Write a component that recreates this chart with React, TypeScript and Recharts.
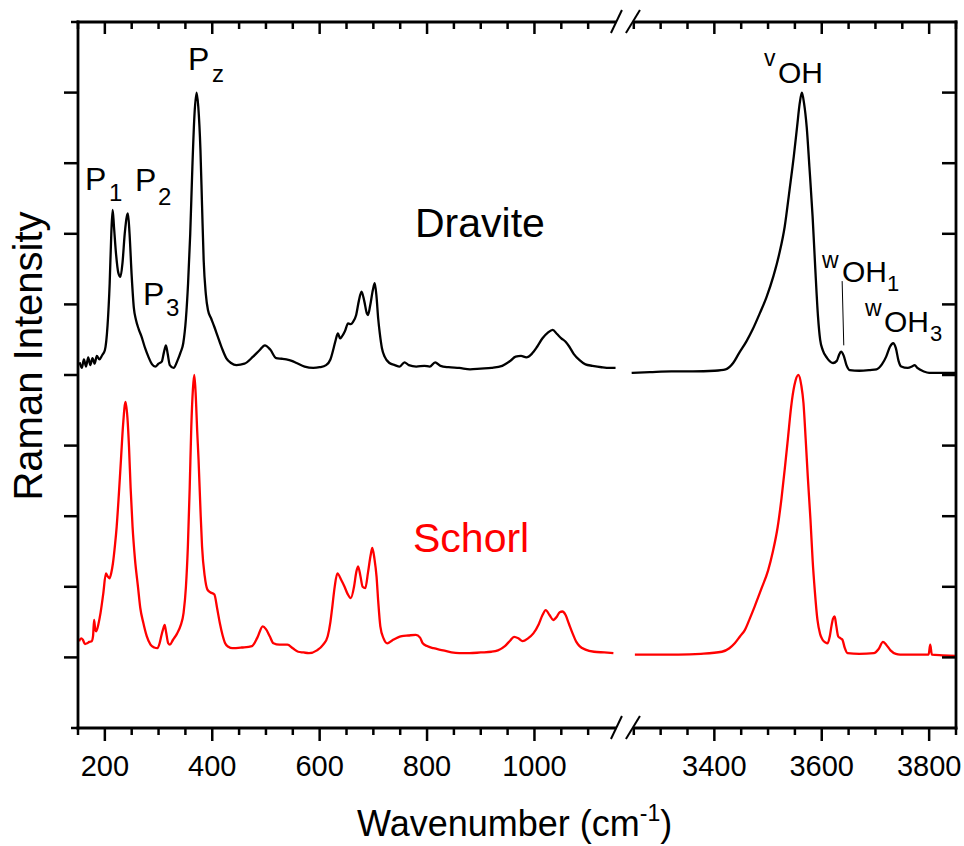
import { LineChart, Line, XAxis, YAxis, ReferenceLine } from 'recharts';

const FONT = '"Liberation Sans", Arial, sans-serif';

// broken axis: values above the break are shifted left by this much
const SHIFT = 2065;
const BREAK_AT = 1168.5;
const toAxis = (v: number) => (v > 2000 ? v - SHIFT : v);
const fromAxis = (a: number) => (a > BREAK_AT ? a + SHIFT : a);

const majorTicks = [200, 400, 600, 800, 1000, 3400, 3600, 3800];
const minorTicks = [
  150, 250, 300, 350, 450, 500, 550, 650, 700, 750, 850, 900, 950, 1050, 1100,
  3250, 3300, 3350, 3450, 3500, 3550, 3650, 3700, 3750, 3850,
];
const yTicks = [0, 1, 2, 3, 4, 5, 6, 7, 8, 9, 10];

// Dravite, low wavenumber part
const dravLowX = [
  153, 157, 161, 165, 169, 173, 177, 181, 185, 190, 195, 200, 205, 209, 212, 214.5, 217, 221, 225, 229,
  233, 237, 241, 243, 246, 250, 254, 258, 263, 268, 275, 281, 288, 294, 300, 306, 310, 313.8, 317, 321,
  328, 335, 341, 346, 351, 355, 359, 363, 367, 370.8, 374, 378, 381, 384, 388, 392, 398, 404, 410, 418,
  426, 435, 445, 460, 476, 488, 498, 508, 519, 530, 538, 548, 557, 572, 588, 600, 612, 620, 626, 630,
  634, 638, 641, 647, 653, 658, 662, 668, 673, 678, 683, 688, 690, 694, 699, 702.6, 706, 709, 712, 716,
  721, 730, 740, 749, 758, 766, 780, 795, 805, 815, 825, 840, 860, 880, 900, 920, 940, 955, 965, 975,
  985, 995, 1005, 1015, 1025, 1034, 1042, 1050, 1058, 1065, 1073, 1084, 1095, 1108, 1125, 1140, 1151,
];
const dravLowY = [
  5.18, 5.1, 5.22, 5.12, 5.25, 5.14, 5.24, 5.16, 5.27, 5.22, 5.28, 5.35, 5.7, 6.3, 7.0, 7.34, 7.1, 6.7, 6.45, 6.39,
  6.6, 7.0, 7.25, 7.29, 7.0, 6.4, 5.95, 5.78, 5.65, 5.55, 5.38, 5.26, 5.15, 5.12, 5.16, 5.19, 5.32, 5.42, 5.3, 5.14,
  5.1, 5.2, 5.32, 5.45, 5.8, 6.3, 7.0, 7.95, 8.7, 9.0, 8.8, 8.19, 7.4, 6.63, 6.15, 5.92, 5.8, 5.68, 5.55, 5.38,
  5.24, 5.17, 5.14, 5.16, 5.26, 5.35, 5.42, 5.36, 5.24, 5.23, 5.22, 5.2, 5.17, 5.12, 5.1, 5.11, 5.14, 5.22, 5.38, 5.5,
  5.59, 5.52, 5.54, 5.62, 5.73, 5.72, 5.75, 5.85, 6.05, 6.18, 6.05, 5.87, 5.85, 5.98, 6.2, 6.3, 6.1, 5.8, 5.59, 5.38,
  5.26, 5.17, 5.14, 5.12, 5.18, 5.14, 5.12, 5.13, 5.12, 5.18, 5.13, 5.11, 5.1, 5.08, 5.09, 5.1, 5.13, 5.2, 5.26, 5.27,
  5.25, 5.3, 5.4, 5.52, 5.6, 5.64, 5.58, 5.52, 5.47, 5.4, 5.3, 5.21, 5.15, 5.13, 5.11, 5.1, 5.1,
];

// Dravite, OH stretching region
const dravHighX = [
  3246, 3280, 3320, 3360, 3400, 3421, 3435, 3446, 3460, 3471, 3485, 3497, 3510, 3521, 3531, 3540, 3548, 3554, 3559, 3563,
  3567, 3572, 3577, 3583, 3588, 3593, 3597, 3602, 3610, 3621, 3628, 3632, 3636, 3641, 3646, 3652, 3670, 3690, 3702, 3712,
  3720, 3727, 3733, 3738, 3743, 3748, 3760, 3768, 3773, 3778, 3790, 3800, 3820, 3850,
];
const dravHighY = [
  5.03, 5.04, 5.05, 5.05, 5.06, 5.08, 5.17, 5.31, 5.48, 5.64, 5.88, 6.1, 6.4, 6.72, 7.1, 7.62, 8.1, 8.51, 8.85, 9.0,
  8.85, 8.51, 7.95, 7.24, 6.5, 5.83, 5.5, 5.35, 5.24, 5.17, 5.2, 5.28, 5.33, 5.27, 5.14, 5.07, 5.06, 5.07, 5.08, 5.15,
  5.26, 5.4, 5.45, 5.38, 5.2, 5.12, 5.1, 5.12, 5.14, 5.1, 5.05, 5.03, 5.03, 5.03,
];

// Schorl, low wavenumber part
const schLowX = [
  152, 156, 159, 163, 167, 171, 175.5, 178, 180, 182, 184, 188, 192, 197, 202, 205, 208.6, 212, 215, 219,
  222, 226, 230, 234, 238.5, 242, 245, 248, 251.6, 256, 261.7, 266, 271.6, 278, 285, 292, 298, 302, 305, 308.5,
  311.4, 314, 318, 321, 327, 334.7, 341, 346.6, 351, 354.6, 358, 361, 364, 366.5, 369, 372, 374.5, 378, 381, 386,
  391, 397, 404, 409, 414, 419, 424, 430, 437.5, 455, 474, 484, 494, 500, 507, 514, 525, 540, 550, 560,
  570, 580, 595, 606.6, 615, 620, 623, 628, 633, 640, 646.4, 652, 658, 664, 668, 671.5, 676, 680, 685, 690,
  695, 698, 702, 706, 709, 713, 719, 726, 735, 745, 753, 765, 779, 787, 792, 800, 812, 830, 845.5, 860,
  879, 900, 920, 932, 945, 955, 962, 970, 978, 988, 998, 1008, 1015, 1021, 1028, 1035, 1042, 1047, 1052, 1058,
  1064, 1071, 1078, 1084, 1095, 1111, 1130, 1147,
];
const schLowY = [
  1.23, 1.27, 1.25, 1.19, 1.2, 1.22, 1.23, 1.3, 1.53, 1.4, 1.37, 1.47, 1.63, 1.9, 2.19, 2.15, 2.12, 2.2, 2.33, 2.6,
  2.85, 3.3, 3.8, 4.3, 4.62, 4.4, 3.98, 3.4, 2.85, 2.4, 2.0, 1.7, 1.49, 1.3, 1.18, 1.14, 1.13, 1.2, 1.3, 1.4,
  1.46, 1.36, 1.2, 1.18, 1.25, 1.34, 1.45, 1.63, 2.0, 2.57, 3.4, 4.27, 4.8, 5.0, 4.75, 4.2, 3.8, 3.1, 2.57, 2.15,
  1.96, 1.92, 1.89, 1.7, 1.49, 1.32, 1.2, 1.15, 1.13, 1.14, 1.16, 1.28, 1.44, 1.4, 1.3, 1.2, 1.18, 1.18, 1.13, 1.08,
  1.07, 1.06, 1.1, 1.18, 1.3, 1.5, 1.68, 2.0, 2.19, 2.1, 2.0, 1.9, 1.84, 2.0, 2.2, 2.29, 2.15, 2.0, 1.98, 2.2,
  2.45, 2.55, 2.4, 2.14, 1.8, 1.44, 1.27, 1.2, 1.24, 1.28, 1.3, 1.31, 1.32, 1.28, 1.2, 1.16, 1.13, 1.1, 1.07, 1.06,
  1.06, 1.07, 1.08, 1.1, 1.16, 1.24, 1.29, 1.27, 1.23, 1.27, 1.34, 1.47, 1.6, 1.67, 1.6, 1.53, 1.58, 1.64, 1.65, 1.6,
  1.48, 1.34, 1.22, 1.16, 1.11, 1.08, 1.07, 1.06,
];

// Schorl, OH stretching region
const schHighX = [
  3252, 3290, 3333, 3375, 3414, 3428, 3438, 3448, 3457, 3466, 3475, 3488, 3500, 3509, 3518, 3525, 3531, 3537, 3543, 3549,
  3556.5, 3562, 3566, 3570, 3574, 3579, 3583, 3587, 3592, 3597, 3601.5, 3607, 3611, 3615, 3618, 3621, 3624, 3627, 3630.5, 3635,
  3638.5, 3643, 3648, 3670, 3697, 3706, 3714, 3720, 3728, 3738, 3746, 3770, 3799, 3802, 3805, 3825, 3850,
];
const schHighY = [
  1.04, 1.04, 1.04, 1.05, 1.08, 1.13, 1.2, 1.3, 1.39, 1.55, 1.72, 1.98, 2.23, 2.5, 2.85, 3.25, 3.66, 4.1, 4.55, 4.85,
  5.0, 4.85, 4.6, 4.1, 3.56, 2.95, 2.38, 1.95, 1.53, 1.33, 1.25, 1.21, 1.2, 1.3, 1.44, 1.55, 1.58, 1.45, 1.3, 1.27,
  1.25, 1.13, 1.06, 1.05, 1.06, 1.12, 1.22, 1.18, 1.1, 1.05, 1.04, 1.04, 1.04, 1.18, 1.04, 1.03, 1.02,
];

type Pt = { x: number; y: number | null };
const buildSeries = (lx: number[], ly: number[], hx: number[], hy: number[]): Pt[] => [
  ...lx.map((v, i) => ({ x: toAxis(v), y: ly[i] })),
  { x: BREAK_AT, y: null },
  ...hx.map((v, i) => ({ x: toAxis(v), y: hy[i] })),
];

const dravite = buildSeries(dravLowX, dravLowY, dravHighX, dravHighY);
const schorl = buildSeries(schLowX, schLowY, schHighX, schHighY);

const axisTicks = [...minorTicks, ...majorTicks].map(toAxis).sort((a, b) => a - b);
const isMajor = (a: number) => majorTicks.includes(fromAxis(a));

const axisStyle = { stroke: '#000', strokeWidth: 2.8, strokeLinecap: 'square' as const };

function BottomTick({ x, y, payload }: any) {
  const major = isMajor(payload.value);
  return (
    <g>
      <line x1={x} x2={x} y1={y} y2={y + (major ? 13 : 7)} stroke="#000" strokeWidth={2.5} />
      {major && (
        <text x={x} y={y + 48} textAnchor="middle" fontSize={29} fontFamily={FONT} fill="#000">
          {fromAxis(payload.value)}
        </text>
      )}
    </g>
  );
}

function TopTick({ x, y, payload }: any) {
  const major = isMajor(payload.value);
  return <line x1={x} x2={x} y1={y} y2={y + (major ? 12 : 7)} stroke="#000" strokeWidth={2.5} />;
}

function LeftTick({ x, y, payload }: any) {
  const edge = payload.value === 0 || payload.value === 10;
  return <line x1={x} x2={x - (edge ? 7 : 14)} y1={y} y2={y} stroke="#000" strokeWidth={2.5} />;
}

function RightTick({ x, y, payload }: any) {
  if (payload.value === 0 || payload.value === 10) return <g />;
  return <line x1={x} x2={x - 14} y1={y} y2={y} stroke="#000" strokeWidth={2.5} />;
}

// pixel helper for the axis break decoration only
const PLOT_L = 78;
const PLOT_W = 878;
const breakPx = PLOT_L + ((BREAK_AT - 150) / (1785 - 150)) * PLOT_W;

function BreakMark({ y }: { y: number }) {
  const c = breakPx;
  return (
    <g>
      <polygon
        points={`${c - 13},${y + 11} ${c - 3},${y - 12} ${c + 14},${y - 12} ${c + 3},${y + 11}`}
        fill="#fff"
      />
      <line x1={c - 14} y1={y + 11} x2={c - 3} y2={y - 12} stroke="#000" strokeWidth={2} />
      <line x1={c + 1} y1={y + 11} x2={c + 15} y2={y - 12} stroke="#000" strokeWidth={2} />
    </g>
  );
}

export default function App() {
  return (
    <div style={{ position: 'absolute', left: 0, top: 0, width: 964, height: 846, background: '#fff' }}>
      <LineChart width={964} height={846} margin={{ top: 0, right: 0, bottom: 0, left: 0 }}>
        <XAxis
          xAxisId="b"
          type="number"
          dataKey="x"
          domain={[150, 1785]}
          ticks={axisTicks}
          interval={0}
          height={118}
          tickSize={0}
          tickMargin={0}
          tickLine={false}
          axisLine={axisStyle}
          tick={BottomTick}
          allowDataOverflow
        />
        <XAxis
          xAxisId="t"
          orientation="top"
          type="number"
          dataKey="x"
          domain={[150, 1785]}
          ticks={axisTicks}
          interval={0}
          height={22}
          tickSize={0}
          tickMargin={0}
          tickLine={false}
          axisLine={axisStyle}
          tick={TopTick}
          allowDataOverflow
        />
        <YAxis
          yAxisId="l"
          type="number"
          domain={[0, 10]}
          ticks={yTicks}
          interval={0}
          width={78}
          tickSize={0}
          tickMargin={0}
          tickLine={false}
          axisLine={axisStyle}
          tick={LeftTick}
          allowDataOverflow
        />
        <YAxis
          yAxisId="r"
          orientation="right"
          type="number"
          domain={[0, 10]}
          ticks={yTicks}
          interval={0}
          width={8}
          tickSize={0}
          tickMargin={0}
          tickLine={false}
          axisLine={axisStyle}
          tick={RightTick}
          allowDataOverflow
        />
        <Line
          xAxisId="b"
          yAxisId="l"
          data={dravite}
          dataKey="y"
          type="monotone"
          stroke="#000"
          strokeWidth={2.3}
          dot={false}
          connectNulls={false}
          isAnimationActive={false}
        />
        <Line
          xAxisId="b"
          yAxisId="l"
          data={schorl}
          dataKey="y"
          type="monotone"
          stroke="#ff0000"
          strokeWidth={2.3}
          dot={false}
          connectNulls={false}
          isAnimationActive={false}
        />
        {/* leader line for the wOH1 label */}
        <ReferenceLine
          xAxisId="b"
          yAxisId="l"
          segment={[
            { x: toAxis(3638), y: 6.33 },
            { x: toAxis(3641), y: 5.42 },
          ]}
          stroke="#000"
          strokeWidth={1}
          ifOverflow="visible"
        />
      </LineChart>

      <svg
        width={964}
        height={846}
        style={{ position: 'absolute', left: 0, top: 0, pointerEvents: 'none' }}
        fontFamily={FONT}
      >
        <BreakMark y={22} />
        <BreakMark y={728} />

        <text x={42} y={356} fontSize={40} textAnchor="middle" transform="rotate(-90 42 356)" fill="#000">
          Raman Intensity
        </text>
        <text x={357} y={836} fontSize={36} fill="#000">
          Wavenumber (cm
          <tspan fontSize={23} dy={-15}>-1</tspan>
          <tspan fontSize={36} dy={15}>)</tspan>
        </text>

        <text x={85} y={190} fontSize={32}>P</text>
        <text x={109} y={201} fontSize={24}>1</text>
        <text x={135} y={191} fontSize={32}>P</text>
        <text x={158} y={205} fontSize={24}>2</text>
        <text x={143} y={305} fontSize={32}>P</text>
        <text x={166} y={316} fontSize={24}>3</text>
        <text x={188} y={70} fontSize={32}>P</text>
        <text x={212} y={82} fontSize={24}>z</text>

        <text x={764} y={66} fontSize={23}>v</text>
        <text x={778} y={83} fontSize={30}>OH</text>
        <text x={822} y={268} fontSize={23}>w</text>
        <text x={842} y={282} fontSize={30}>OH</text>
        <text x={887} y={291} fontSize={22}>1</text>
        <text x={865} y={316} fontSize={23}>w</text>
        <text x={884} y={332} fontSize={30}>OH</text>
        <text x={930} y={341} fontSize={22}>3</text>

        <text x={415} y={237} fontSize={41} fill="#000">Dravite</text>
        <text x={413} y={552} fontSize={41} fill="#ff0000">Schorl</text>
      </svg>
    </div>
  );
}
